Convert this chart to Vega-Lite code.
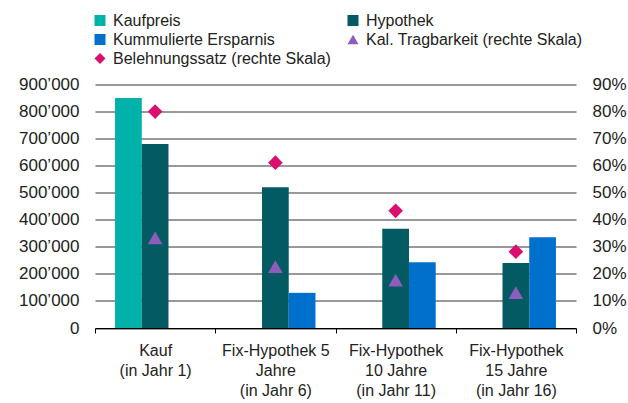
{
  "$schema": "https://vega.github.io/schema/vega-lite/v6.json",
  "width": 481,
  "height": 243.5,
  "autosize": {"type": "none"},
  "padding": {"left": 95, "top": 84.5, "right": 52, "bottom": 75},
  "config": {
    "font": "Liberation Sans",
    "view": {"stroke": null},
    "axis": {"labelFont": "Liberation Sans", "labelColor": "#222222", "labelFontSize": 16},
    "legend": {
      "orient": "none",
      "legendX": -3,
      "legendY": -72,
      "direction": "horizontal",
      "columns": 2,
      "columnPadding": 14,
      "rowPadding": 3,
      "symbolSize": 121,
      "labelFont": "Liberation Sans",
      "labelFontSize": 16,
      "labelColor": "#222222",
      "labelOffset": 5,
      "labelLimit": 0,
      "symbolStrokeWidth": 0
    }
  },
  "layer": [
    {
      "data": {
        "values": [
          {"cat": "Kauf|(in Jahr 1)", "series": "Kaufpreis", "value": 850000},
          {"cat": "Kauf|(in Jahr 1)", "series": "Hypothek", "value": 680000},
          {"cat": "Kauf|(in Jahr 1)", "series": "Kummulierte Ersparnis", "value": 0},
          {"cat": "Fix-Hypothek 5|Jahre|(in Jahr 6)", "series": "Hypothek", "value": 520000},
          {"cat": "Fix-Hypothek 5|Jahre|(in Jahr 6)", "series": "Kummulierte Ersparnis", "value": 130000},
          {"cat": "Fix-Hypothek|10 Jahre|(in Jahr 11)", "series": "Hypothek", "value": 367000},
          {"cat": "Fix-Hypothek|10 Jahre|(in Jahr 11)", "series": "Kummulierte Ersparnis", "value": 243000},
          {"cat": "Fix-Hypothek|15 Jahre|(in Jahr 16)", "series": "Hypothek", "value": 240000},
          {"cat": "Fix-Hypothek|15 Jahre|(in Jahr 16)", "series": "Kummulierte Ersparnis", "value": 335000}
        ]
      },
      "mark": {"type": "bar"},
      "encoding": {
        "x": {
          "field": "cat", "type": "nominal",
          "sort": ["Kauf|(in Jahr 1)", "Fix-Hypothek 5|Jahre|(in Jahr 6)", "Fix-Hypothek|10 Jahre|(in Jahr 11)", "Fix-Hypothek|15 Jahre|(in Jahr 16)"],
          "scale": {"paddingInner": 0, "paddingOuter": 0},
          "axis": {
            "title": null, "labelAngle": 0, "labelExpr": "split(datum.label, '|')",
            "labelLineHeight": 20, "labelBaseline": "top", "tickBand": "extent",
            "tickSize": 5, "tickColor": "#000000", "domainColor": "#000000",
            "labelPadding": 9, "grid": false, "labelLimit": 0, "zindex": 1
          }
        },
        "xOffset": {
          "field": "series", "type": "nominal",
          "scale": {"domain": ["Kaufpreis", "Hypothek", "Kummulierte Ersparnis"], "paddingInner": 0, "paddingOuter": 0.75}
        },
        "y": {
          "field": "value", "type": "quantitative",
          "scale": {"domain": [0, 900000]},
          "axis": {
            "title": null,
            "values": [0, 100000, 200000, 300000, 400000, 500000, 600000, 700000, 800000, 900000],
            "labelExpr": "replace(format(datum.value, ','), ',', '’')",
            "domain": false, "ticks": false, "grid": true, "gridColor": "#333333", "gridWidth": 1,
            "labelPadding": 16, "labelFontSize": 17
          }
        },
        "color": {
          "field": "series", "type": "nominal", "title": null,
          "scale": {
            "domain": ["Kaufpreis", "Hypothek", "Kummulierte Ersparnis", "Kal. Tragbarkeit (rechte Skala)", "Belehnungssatz (rechte Skala)"],
            "range": ["#00B2AA", "#035A63", "#0070CD", "#8D5DBE", "#DB0F6F"]
          }
        }
      }
    },
    {
      "data": {
        "values": [
          {"cat": "Kauf|(in Jahr 1)", "series": "Kal. Tragbarkeit (rechte Skala)", "value": 0.333},
          {"cat": "Fix-Hypothek 5|Jahre|(in Jahr 6)", "series": "Kal. Tragbarkeit (rechte Skala)", "value": 0.227},
          {"cat": "Fix-Hypothek|10 Jahre|(in Jahr 11)", "series": "Kal. Tragbarkeit (rechte Skala)", "value": 0.177},
          {"cat": "Fix-Hypothek|15 Jahre|(in Jahr 16)", "series": "Kal. Tragbarkeit (rechte Skala)", "value": 0.131},
          {"cat": "Kauf|(in Jahr 1)", "series": "Belehnungssatz (rechte Skala)", "value": 0.80},
          {"cat": "Fix-Hypothek 5|Jahre|(in Jahr 6)", "series": "Belehnungssatz (rechte Skala)", "value": 0.611},
          {"cat": "Fix-Hypothek|10 Jahre|(in Jahr 11)", "series": "Belehnungssatz (rechte Skala)", "value": 0.433},
          {"cat": "Fix-Hypothek|15 Jahre|(in Jahr 16)", "series": "Belehnungssatz (rechte Skala)", "value": 0.282}
        ]
      },
      "mark": {"type": "point", "filled": true, "opacity": 1, "size": 215, "strokeWidth": 0},
      "encoding": {
        "x": {
          "field": "cat", "type": "nominal",
          "sort": ["Kauf|(in Jahr 1)", "Fix-Hypothek 5|Jahre|(in Jahr 6)", "Fix-Hypothek|10 Jahre|(in Jahr 11)", "Fix-Hypothek|15 Jahre|(in Jahr 16)"]
        },
        "y": {
          "field": "value", "type": "quantitative",
          "scale": {"domain": [0, 0.9]},
          "axis": {
            "orient": "right", "title": null,
            "values": [0, 0.1, 0.2, 0.3, 0.4, 0.5, 0.6, 0.7, 0.8, 0.9],
            "format": ".0%", "domain": false, "ticks": false, "grid": false,
            "labelPadding": 16, "labelFontSize": 17
          }
        },
        "color": {"field": "series", "type": "nominal", "title": null},
        "shape": {
          "field": "series", "type": "nominal", "title": null,
          "scale": {
            "domain": ["Kaufpreis", "Hypothek", "Kummulierte Ersparnis", "Kal. Tragbarkeit (rechte Skala)", "Belehnungssatz (rechte Skala)"],
            "range": ["square", "square", "square", "triangle-up", "diamond"]
          }
        }
      }
    }
  ],
  "resolve": {"scale": {"y": "independent"}}
}
